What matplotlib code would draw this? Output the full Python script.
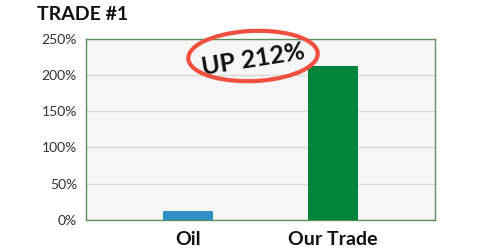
import matplotlib
matplotlib.use("Agg")
import matplotlib.pyplot as plt
from matplotlib.patches import Ellipse

categories = ["Oil", "Our Trade"]
values = [12.8, 212]
bar_colors = ["#2f8fc6", "#00843c"]
yticks = [0, 50, 100, 150, 200, 250]
ytick_labels = ["0%", "50%", "100%", "150%", "200%", "250%"]
title = "TRADE #1"
callout = "UP 212%"

plt.rcParams['font.family'] = ['Lato', 'DejaVu Sans']

fig = plt.figure(figsize=(4.8, 2.52), dpi=100)
fig.patch.set_facecolor("white")
ax = fig.add_axes([86/480, 1 - 220/252, (435-86)/480, (220-38.5)/252])
ax.set_facecolor("#f6f6f6")

x = list(range(len(categories)))
ax.bar(x, values, width=0.345, color=bar_colors, zorder=3)
ax.set_xlim(-0.703, 1.703)
ax.set_ylim(0, 250)
ax.set_yticks(yticks)
ax.set_yticklabels(ytick_labels, fontsize=10, color="#333333")
ax.set_xticks(x)
ax.set_xticklabels(categories, fontsize=14, fontweight="bold", color="#111111")
ax.tick_params(axis="both", length=0)
ax.tick_params(axis="y", pad=6.5)
ax.tick_params(axis="x", pad=8)
ax.yaxis.grid(True, color="#d8d8d8", linewidth=1, zorder=0)
for s in ax.spines.values():
    s.set_color("#5e8f5e")
    s.set_linewidth(1)

fig.text(37/480, 1 - 14/252, title, fontsize=14, fontweight="bold", color="#111111",
         ha="left", va="center")

fig.text(253/480, 1 - 59/252, callout, fontsize=18, fontweight="bold", color="#111111",
         ha="center", va="center", rotation=9)
ell = Ellipse((253/480, 1 - 56/252), width=130/480, height=50/252, angle=8,
              transform=fig.transFigure, fill=False, edgecolor="#f04e3e", linewidth=3)
fig.add_artist(ell)

fig.savefig("out.png", dpi=100)
